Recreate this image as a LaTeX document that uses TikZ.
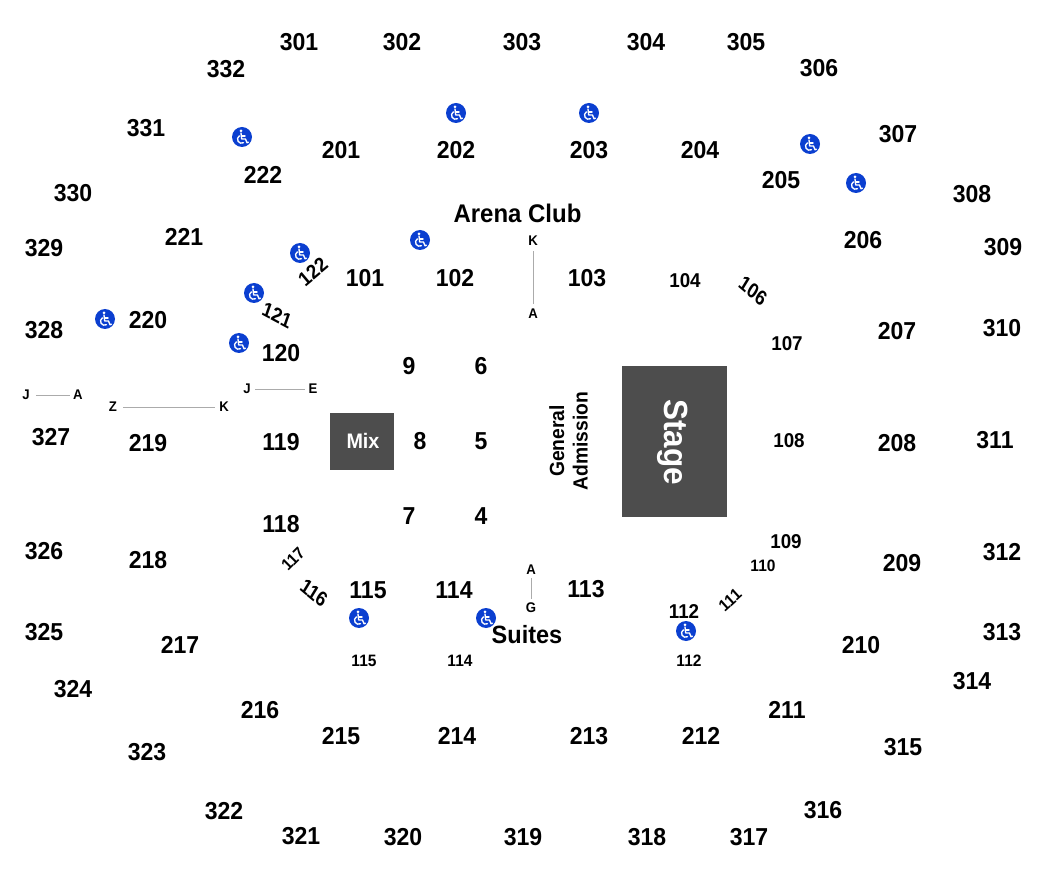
\documentclass[tikz,border=0pt]{standalone}
\usepackage{fontspec}
\setmainfont{Liberation Sans}[FakeStretch=0.94]
\definecolor{dark}{HTML}{4D4D4D}
\definecolor{wcblue}{HTML}{0B3FD0}
\definecolor{rule}{HTML}{ABABAB}
\tikzset{
  lab/.style={inner sep=0pt,font=\bfseries\fontsize{#1}{#1}\selectfont,text=black},
  big/.style={lab=24.5,yshift=0.8pt},
  small/.style={lab=20},
  tiny/.style={lab=16.5},
  letter/.style={lab=14},
  block/.style={fill=dark,draw=none,inner sep=0pt},
  wc/.style={circle,fill=wcblue,minimum size=20,inner sep=0pt},
  tick/.style={draw=rule,line width=0.9},
  wcline/.style={draw=white,line width=1.35,line cap=round,line join=round},
}
\newcommand{\wcicon}[2]{%
  \node[wc] (#1) at (#2) {};
  \begin{scope}[shift={(#1.center)}]
    \fill[white] (-1.0,-6.2) circle (1.5);
    \draw[wcline] (-1,-4) -- (-0.3,2) -- (3.5,2) -- (5,5.8) -- (6.4,5.2);
    \draw[wcline] (-0.7,-1) -- (3,-1);
    \draw[wcline] (-2.5,-1.2) arc[start angle=-120,end angle=-300,radius=4];
  \end{scope}}
\begin{document}
\begin{tikzpicture}[x=1pt,y=-1pt]
\useasboundingbox (0,0) rectangle (1050,882);
\foreach \n/\x/\y in {301/299/43,302/402/43,303/522/43,304/646/43,305/746/43,306/819/69,332/226/70,331/146/129,307/898/135,308/972/195,330/73/194,329/44/249,309/1003/248,328/44/331,310/1002/329,327/51/438,311/995/441,326/44/552,312/1002/553,325/44/633,313/1002/633,324/73/690,314/972/682,323/147/753,315/903/748,322/224/812,316/823/811,321/301/837,320/403/838,319/523/838,318/647/838,317/749/838,
201/341/151,202/456/151,203/589/151,204/700/151,205/781/181,206/863/241,222/263/176,221/184/238,220/148/321,219/148/444,218/148/561,217/180/646,216/260/711,215/341/737,214/457/737,213/589/737,212/701/737,211/787/711,210/861/646,209/902/564,208/897/444,207/897/332,
101/365/279,102/455/279,103/587/279,120/281/354,119/281/443,118/281/525,115/368/591,114/454/591,113/586/590,
9/409/367,6/481/367,8/420/442,5/481/442,7/409/517,4/481/517}
  \node[big] (s\n) at (\x,\y) {\n};
\node[small] (s112) at (684,612) {112};
\foreach \n/\x/\y in {104/685/281,107/787/344,108/789/441,109/786/542}
  \node[small] (s\n) at (\x,\y) {\n};
\foreach \n/\x/\y in {115/364/661,114/460/661,112/689/661}
  \node[tiny] (t\n) at (\x,\y) {\n};
\node[tiny] (s110) at (763,566) {110};
\node[small,rotate=-40,xslant=-0.15] (s106) at (753,291) {106};
\node[small,rotate=40] (s122) at (313,272) {122};
\node[small,rotate=-28,xslant=-0.15] (s121) at (277,315) {121};
\node[tiny,rotate=45] (s117) at (293,559) {117};
\node[small,rotate=-40,xslant=-0.15] (s116) at (314,593) {116};
\node[tiny,rotate=42] (s111) at (730,600) {111};
% row letters
\node[letter] (j1) at (26,395) {J};
\node[letter] (a1) at (78,395) {A};
\node[letter] (z2) at (113,407) {Z};
\node[letter] (k2) at (224,407) {K};
\node[letter] (j3) at (247,389) {J};
\node[letter] (e3) at (313,389) {E};
\node[letter] (k4) at (533,241) {K};
\node[letter] (a4) at (533,314) {A};
\node[letter] (a5) at (531,570) {A};
\node[letter] (g5) at (531,608) {G};
\draw[tick,shorten <=6pt,shorten >=3pt] (j1) -- (a1);
\draw[tick,shorten <=6pt,shorten >=4pt] (z2) -- (k2);
\draw[tick,shorten <=4pt,shorten >=3pt] (j3) -- (e3);
\draw[tick,shorten <=5pt,shorten >=5pt] (k4) -- (a4);
\draw[tick,shorten <=3pt,shorten >=4pt] (a5) -- (g5);
% blocks
\node[block,minimum width=105,minimum height=151] (stage) at (674.5,441.5) {};
\node[lab=33.5,text=white,rotate=-90] (stagetext) at (673,442) {Stage};
\node[block,minimum width=64,minimum height=57] (mix) at (362,441.5) {};
\node[lab=21,text=white] (mixtext) at (363,441) {Mix};
\node[lab=25.5] (arena) at (517.5,213) {Arena Club};
\node[lab=25] (suites) at (527,635) {Suites};
\node[lab=20.5,rotate=90,anchor=base] (gen) at (564,441) {General};
\node[lab=20.5,rotate=90,anchor=base] (adm) at (587.5,441) {Admission};
% wheelchair symbols
\wcicon{w1}{456,113}
\wcicon{w2}{589,113}
\wcicon{w3}{242,137}
\wcicon{w4}{810,144}
\wcicon{w5}{856,183}
\wcicon{w6}{300,253}
\wcicon{w7}{420,240}
\wcicon{w8}{254,293}
\wcicon{w9}{105,319}
\wcicon{w10}{239,343}
\wcicon{w11}{359,618}
\wcicon{w12}{486,618}
\wcicon{w13}{686,631}
\end{tikzpicture}
\end{document}
